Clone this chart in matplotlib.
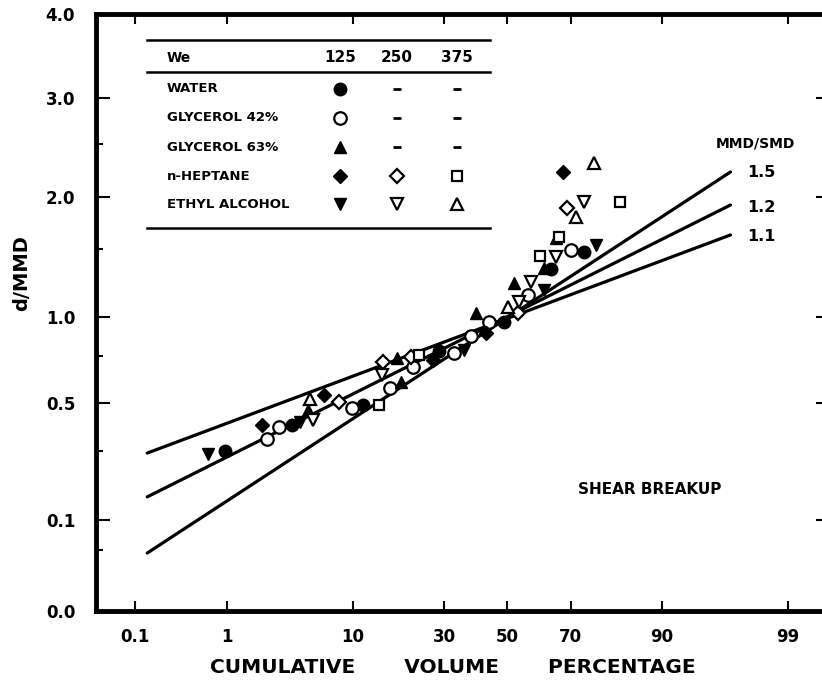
import math
import numpy as np
import matplotlib
matplotlib.use("Agg")
import matplotlib.pyplot as plt
from matplotlib.ticker import NullLocator

# ---- data (cumulative volume %, d/MMD) ----
water_x = [0.96, 3.7, 11.6, 28.4, 48.8, 64.1, 73.8]
water_y = [0.30, 0.41, 0.49, 0.78, 0.97, 1.35, 1.48]

gly42_x = [2.3, 2.9, 9.9, 16.6, 21.8, 32.8, 38.1, 43.9, 56.8, 70.1]
gly42_y = [0.35, 0.40, 0.48, 0.58, 0.69, 0.77, 0.88, 0.97, 1.16, 1.49]

gly63_x = [4.9, 18.8, 18.1, 39.7, 52.2, 61.9, 65.7]
gly63_y = [0.47, 0.61, 0.74, 1.03, 1.25, 1.36, 1.61]

hep125_x = [2.1, 6.4, 26.8, 42.9, 67.8]
hep125_y = [0.41, 0.54, 0.73, 0.90, 2.24]
hep250_x = [8.1, 15.2, 21.1, 53.5, 69.0]
hep250_y = [0.505, 0.72, 0.745, 1.03, 1.89]
hep375_x = [14.3, 23.1, 60.7, 66.6, 82.5]
hep375_y = [0.49, 0.756, 1.45, 1.62, 1.95]

eth125_x = [0.65, 4.3, 35.9, 61.9, 76.9]
eth125_y = [0.29, 0.42, 0.79, 1.20, 1.54]
eth250_x = [5.3, 15.0, 53.8, 57.7, 65.7, 73.8]
eth250_y = [0.43, 0.65, 1.11, 1.26, 1.44, 1.95]
eth375_x = [5.1, 50.2, 71.5, 76.4]
eth375_y = [0.52, 1.07, 1.81, 2.32]

# MMD/SMD reference lines
ratio_labels = ["1.1", "1.2", "1.5"]
ratio_x = [0.14, 96.8]
ratio_y = [[0.294, 1.635], [0.167, 1.923], [0.0475, 2.236]]

x_ticks = [0.1, 1, 10, 30, 50, 70, 90, 99]
x_ticklabels = ["0.1", "1", "10", "30", "50", "70", "90", "99"]
y_ticks = [0.0, 0.1, 0.5, 1.0, 2.0, 3.0, 4.0]
y_ticklabels = ["0.0", "0.1", "0.5", "1.0", "2.0", "3.0", "4.0"]
y_minor = [0.05, 0.3, 0.75, 1.5, 2.5]

fluids = ["WATER", "GLYCEROL 42%", "GLYCEROL 63%", "n-HEPTANE", "ETHYL ALCOHOL"]
we_cols = ["125", "250", "375"]


# ---- scales ----
z_grid = np.linspace(-6, 6, 24001)
p_grid = 50 * (1 + np.vectorize(math.erf)(z_grid / math.sqrt(2)))


def prob_fwd(p):
    return np.interp(p, p_grid, z_grid)


def prob_inv(z):
    return np.interp(z, z_grid, p_grid)


# the d/MMD axis of the original paper is graduated unevenly
y_nodes = [0.0, 0.05, 0.1, 0.3, 0.5, 0.75, 1.0, 1.5, 2.0, 2.5, 3.0, 4.0]
y_pos = [0, 61, 91, 160, 208, 255, 294, 362, 414, 467, 513, 597]


def dmmd_fwd(v):
    return np.interp(v, y_nodes, y_pos)


def dmmd_inv(h):
    return np.interp(h, y_pos, y_nodes)


plt.rcParams['font.family'] = ['DejaVu Sans']
plt.rcParams['font.weight'] = 'bold'

fig = plt.figure(figsize=(8.22, 6.83), dpi=100)
# right spine sits just past the edge of the picture, as in the scan
ax = fig.add_axes([96 / 822, 72 / 683, 734 / 822, 597 / 683])
ax.set_xscale('function', functions=(prob_fwd, prob_inv))
ax.set_yscale('function', functions=(dmmd_fwd, dmmd_inv))
ax.set_xlim(0.032, 99.63)
ax.set_ylim(0, 4)

for lab, ys in zip(ratio_labels, ratio_y):
    ax.plot(ratio_x, ys, color='black', lw=2.3, zorder=2, solid_capstyle='round')

filled = dict(color='black', ls='none', zorder=3)
opened = dict(color='black', mfc='white', mew=1.6, ls='none', zorder=3)
ax.plot(water_x, water_y, marker='o', ms=9, **filled)
ax.plot(gly42_x, gly42_y, marker='o', ms=9, **opened)
ax.plot(gly63_x, gly63_y, marker='^', ms=9, **filled)
ax.plot(hep125_x, hep125_y, marker='D', ms=7, **filled)
ax.plot(hep250_x, hep250_y, marker='D', ms=7, **opened)
ax.plot(hep375_x, hep375_y, marker='s', ms=7.5, **opened)
ax.plot(eth125_x, eth125_y, marker='v', ms=9, **filled)
ax.plot(eth250_x, eth250_y, marker='v', ms=9, **opened)
ax.plot(eth375_x, eth375_y, marker='^', ms=9, **opened)

# axes look
for s in ax.spines.values():
    s.set_linewidth(3.5)
ax.spines['right'].set_visible(False)
ax.set_xticks(x_ticks)
ax.set_xticklabels(x_ticklabels)
ax.xaxis.set_minor_locator(NullLocator())
ax.set_yticks(y_ticks)
ax.set_yticklabels(y_ticklabels)
ax.set_yticks(y_minor, minor=True)
ax.tick_params(which='both', direction='in', top=True, right=True, width=1.5)
ax.tick_params(axis='x', which='major', length=7, pad=12, labelsize=12)
ax.tick_params(axis='y', which='major', length=10, pad=15, labelsize=12)
ax.tick_params(axis='y', which='minor', length=5)

fig.text(0.551, 0.022, "CUMULATIVE       VOLUME       PERCENTAGE",
         ha='center', va='center', fontsize=14.5)
fig.text(0.026, 0.60, "d/MMD", rotation=90, ha='center', va='center', fontsize=14)

# legend table
T = ax.transAxes
ax_w = 734
for yy in [0.9564, 0.9028, 0.6415]:
    ax.plot([51 / ax_w, 394 / ax_w], [yy, yy], color='black', lw=1.8, transform=T)
col_x = [244 / ax_w, 301 / ax_w, 361 / ax_w]
row_y = [0.8744, 0.8258, 0.7772, 0.7286, 0.6817]
name_x = 71 / ax_w
ax.text(name_x, 0.9263, "We", fontsize=10, va='center', transform=T)
for cx, lab in zip(col_x, we_cols):
    ax.text(cx, 0.9263, lab, fontsize=11, ha='center', va='center', transform=T)
for ry, name in zip(row_y, fluids):
    ax.text(name_x, ry, name, fontsize=9.5, va='center', transform=T)

leg_marks = [
    [('o', filled, 9), None, None],
    [('o', opened, 9), None, None],
    [('^', filled, 9), None, None],
    [('D', filled, 7), ('D', opened, 7), ('s', opened, 7.5)],
    [('v', filled, 9), ('v', opened, 9), ('^', opened, 9)],
]
for ry, row in zip(row_y, leg_marks):
    for cx, m in zip(col_x, row):
        if m is None:
            ax.plot([cx], [ry], marker='_', ms=6, mew=2, color='black', transform=T)
        else:
            ax.plot([cx], [ry], marker=m[0], ms=m[2], transform=T, clip_on=False, **m[1])

ax.text(659 / ax_w, 0.7839, "MMD/SMD", fontsize=10, ha='center', va='center', transform=T)
for lab, yy in zip(["1.5", "1.2", "1.1"], [0.7353, 0.6767, 0.6265]):
    ax.text(651 / ax_w, yy, lab, fontsize=11.5, ha='left', va='center', transform=T)
ax.text(554 / ax_w, 0.2027, "SHEAR BREAKUP", fontsize=11, ha='center', va='center', transform=T)

fig.savefig("out.png", dpi=100)
